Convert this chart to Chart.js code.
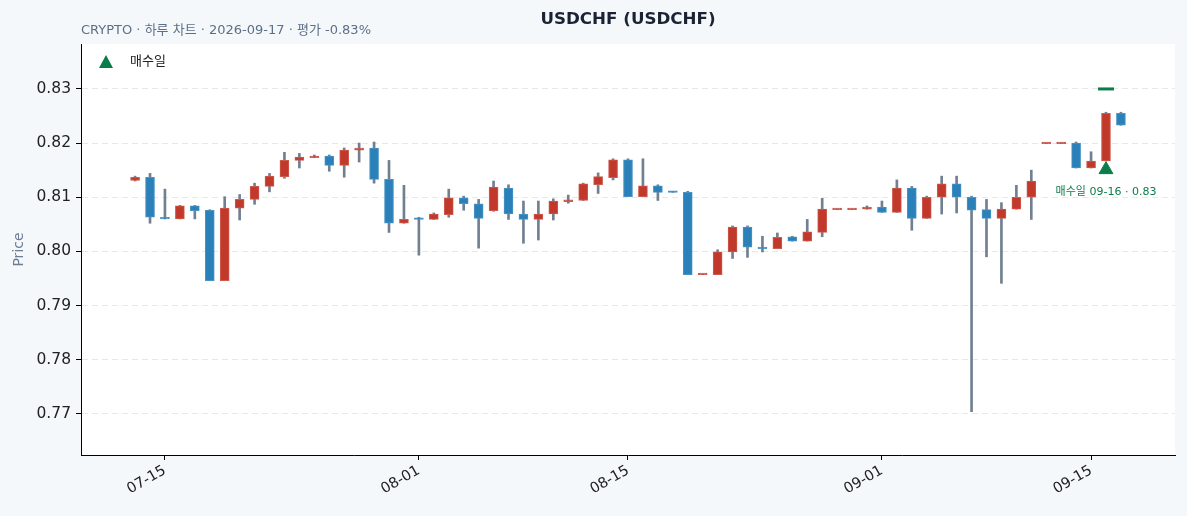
<!DOCTYPE html>
<html lang="ko">
<head>
<meta charset="utf-8">
<title>USDCHF (USDCHF)</title>
<script src="https://cdn.jsdelivr.net/npm/chart.js@4.4.1/dist/chart.umd.min.js"></script>
<style>
  html, body { margin: 0; padding: 0; background: #f5f8fb; }
  #wrap { width: 1187px; height: 516px; }
</style>
</head>
<body>
<div id="wrap"><canvas id="grafico" width="1187" height="516"></canvas></div>
<script>
// Datos diarios (MM-DD, año 2026)
const year = 2026;
const dates = [
  "07-13", "07-14", "07-15", "07-16", "07-17", "07-18", "07-19", "07-20", "07-21", "07-22",
  "07-23", "07-24", "07-25", "07-26", "07-27", "07-28", "07-29", "07-30", "07-31", "08-01",
  "08-02", "08-03", "08-04", "08-05", "08-06", "08-07", "08-08", "08-09", "08-10", "08-11",
  "08-12", "08-13", "08-14", "08-15", "08-16", "08-17", "08-18", "08-19", "08-20", "08-21",
  "08-22", "08-23", "08-24", "08-25", "08-26", "08-27", "08-28", "08-29", "08-30", "08-31",
  "09-01", "09-02", "09-03", "09-04", "09-05", "09-06", "09-07", "09-08", "09-09", "09-10",
  "09-11", "09-12", "09-13", "09-14", "09-15", "09-16", "09-17",
];
const opens = [
  0.8131, 0.8137, 0.8063, 0.8060, 0.8084, 0.8076, 0.7946, 0.8080, 0.8096, 0.8120,
  0.8138, 0.8168, 0.8173, 0.8176, 0.8159, 0.8187, 0.8191, 0.8133, 0.8052, 0.8060,
  0.8059, 0.8068, 0.8099, 0.8088, 0.8075, 0.8117, 0.8069, 0.8059, 0.8069, 0.8092,
  0.8094, 0.8123, 0.8136, 0.8169, 0.8101, 0.8121, 0.8110, 0.8109, 0.7957, 0.7957,
  0.7999, 0.8045, 0.8008, 0.8005, 0.8027, 0.8019, 0.8035, 0.8077, 0.8077, 0.8078,
  0.8082, 0.8072, 0.8117, 0.8061, 0.8100, 0.8125, 0.8100, 0.8077, 0.8061, 0.8078,
  0.8100, 0.8199, 0.8199, 0.8200, 0.8154, 0.8167, 0.8255,
];
const highs = [
  0.8139, 0.8144, 0.8115, 0.8085, 0.8085, 0.8077, 0.8101, 0.8105, 0.8126, 0.8144,
  0.8183, 0.8181, 0.8178, 0.8178, 0.8191, 0.8200, 0.8202, 0.8168, 0.8122, 0.8063,
  0.8071, 0.8115, 0.8102, 0.8096, 0.8130, 0.8123, 0.8093, 0.8093, 0.8097, 0.8104,
  0.8126, 0.8145, 0.8171, 0.8171, 0.8171, 0.8123, 0.8110, 0.8111, 0.7958, 0.8003,
  0.8047, 0.8047, 0.8028, 0.8034, 0.8028, 0.8059, 0.8098, 0.8078, 0.8078, 0.8084,
  0.8093, 0.8132, 0.8120, 0.8102, 0.8139, 0.8139, 0.8102, 0.8096, 0.8090, 0.8122,
  0.8150, 0.8200, 0.8200, 0.8202, 0.8184, 0.8257, 0.8257,
];
const lows = [
  0.8130, 0.8052, 0.8060, 0.8060, 0.8060, 0.7946, 0.7946, 0.8058, 0.8087, 0.8110,
  0.8135, 0.8154, 0.8173, 0.8148, 0.8137, 0.8165, 0.8126, 0.8035, 0.8052, 0.7993,
  0.8059, 0.8063, 0.8076, 0.8006, 0.8074, 0.8059, 0.8015, 0.8021, 0.8058, 0.8089,
  0.8094, 0.8107, 0.8132, 0.8101, 0.8101, 0.8094, 0.8109, 0.7957, 0.7957, 0.7957,
  0.7987, 0.7989, 0.7999, 0.8005, 0.8019, 0.8019, 0.8027, 0.8077, 0.8077, 0.8078,
  0.8072, 0.8072, 0.8039, 0.8061, 0.8069, 0.8071, 0.7704, 0.7990, 0.7941, 0.8078,
  0.8059, 0.8199, 0.8199, 0.8154, 0.8154, 0.8167, 0.8233,
];
const closes = [
  0.8137, 0.8063, 0.8060, 0.8084, 0.8075, 0.7946, 0.8080, 0.8096, 0.8120, 0.8139,
  0.8168, 0.8174, 0.8176, 0.8159, 0.8187, 0.8191, 0.8133, 0.8052, 0.8059, 0.8059,
  0.8069, 0.8099, 0.8088, 0.8061, 0.8119, 0.8069, 0.8059, 0.8069, 0.8093, 0.8095,
  0.8125, 0.8138, 0.8169, 0.8101, 0.8121, 0.8109, 0.8109, 0.7957, 0.7958, 0.7999,
  0.8045, 0.8008, 0.8005, 0.8026, 0.8019, 0.8036, 0.8078, 0.8078, 0.8078, 0.8082,
  0.8072, 0.8117, 0.8061, 0.8100, 0.8125, 0.8100, 0.8076, 0.8061, 0.8078, 0.8100,
  0.8130, 0.8200, 0.8200, 0.8154, 0.8167, 0.8255, 0.8233,
];

// Marcas del eje X y del eje Y
const tickDates = ["07-15", "08-01", "08-15", "09-01", "09-15"];
const yTicks = [0.77, 0.78, 0.79, 0.80, 0.81, 0.82, 0.83];

// Día de compra
const buyDate = "09-16";
const buyPrice = 0.83;
const buyLabel = "매수일";

const titulo = "USDCHF (USDCHF)";
const subtitulo = "CRYPTO · 하루 차트 · 2026-09-17 · 평가 -0.83%";

const ROJO = "#c0392b";
const AZUL = "#2a80b9";
const MECHA = "#717f91";
const VERDE = "#0b7d4b";
const FUENTE = "'DejaVu Sans', 'Noto Sans CJK KR', sans-serif";

// Día como número, contando desde la primera vela
function dayIndex(md) {
  const [m, d] = md.split("-").map(Number);
  const [m0, d0] = dates[0].split("-").map(Number);
  return (Date.UTC(year, m - 1, d) - Date.UTC(year, m0 - 1, d0)) / 864e5;
}
function labelFor(value) {
  const [m0, d0] = dates[0].split("-").map(Number);
  const dt = new Date(Date.UTC(year, m0 - 1, d0) + Math.round(value) * 864e5);
  const mm = String(dt.getUTCMonth() + 1).padStart(2, "0");
  const dd = String(dt.getUTCDate()).padStart(2, "0");
  return `${mm}-${dd}`;
}

const xs = dates.map(dayIndex);
const subida = closes.map((c, i) => c >= opens[i]);
const buyIdx = dates.indexOf(buyDate);
const markerGap = 0.0016; // separación del triángulo bajo la vela

// Fondo de la página y del área del gráfico
const fondo = {
  id: "fondo",
  beforeDraw(chart) {
    const { ctx, chartArea: a } = chart;
    ctx.save();
    ctx.fillStyle = "#f5f8fb";
    ctx.fillRect(0, 0, chart.width, chart.height);
    ctx.fillStyle = "#ffffff";
    ctx.fillRect(a.left, a.top, a.right - a.left, a.bottom - a.top);
    ctx.restore();
  },
};

// Título, subtítulo, leyenda y etiqueta de compra
const textos = {
  id: "textos",
  afterDraw(chart) {
    const { ctx, chartArea: a, scales } = chart;
    ctx.save();
    ctx.textBaseline = "middle";

    ctx.fillStyle = "#1a2233";
    ctx.font = `bold 16.7px ${FUENTE}`;
    ctx.textAlign = "center";
    ctx.fillText(titulo, (a.left + a.right) / 2, 20);

    ctx.fillStyle = "#5d6f86";
    ctx.font = `13px ${FUENTE}`;
    ctx.textAlign = "left";
    ctx.fillText(subtitulo, a.left, 31);

    // Leyenda dentro del área
    const lx = a.left + 25;
    const ly = a.top + 19;
    ctx.fillStyle = VERDE;
    ctx.beginPath();
    ctx.moveTo(lx, ly - 8);
    ctx.lineTo(lx + 7, ly + 5);
    ctx.lineTo(lx - 7, ly + 5);
    ctx.closePath();
    ctx.fill();
    ctx.fillStyle = "#222222";
    ctx.font = `13px ${FUENTE}`;
    ctx.fillText(buyLabel, lx + 24, ly - 1);

    // Etiqueta bajo el triángulo
    const px = scales.x.getPixelForValue(xs[buyIdx]);
    const py = scales.y.getPixelForValue(lows[buyIdx] - markerGap);
    ctx.fillStyle = VERDE;
    ctx.font = `11px ${FUENTE}`;
    ctx.textAlign = "center";
    ctx.fillText(`${buyLabel} ${buyDate} · ${buyPrice.toFixed(2)}`, px, py + 23);
    ctx.restore();
  },
};

const ctx = document.getElementById("grafico").getContext("2d");
Chart.defaults.font.family = FUENTE;

new Chart(ctx, {
  type: "bar",
  data: {
    datasets: [
      {
        label: "body",
        data: xs.map((x, i) => ({ x, y: [opens[i], closes[i]] })),
        backgroundColor: subida.map((s) => (s ? ROJO : AZUL)),
        borderColor: subida.map((s) => (s ? "#cf5a4e" : "#4b93c4")),
        borderWidth: 1,
        borderSkipped: false,
        barThickness: 9,
        minBarLength: 1.5,
        grouped: false,
        order: 1,
      },
      {
        label: "wick",
        data: xs.map((x, i) => ({ x, y: [lows[i], highs[i]] })),
        backgroundColor: MECHA,
        barThickness: 2,
        grouped: false,
        order: 2,
      },
      {
        type: "scatter",
        label: buyLabel,
        data: [{ x: xs[buyIdx], y: lows[buyIdx] - markerGap }],
        pointStyle: "triangle",
        radius: 8,
        backgroundColor: VERDE,
        borderColor: VERDE,
        borderWidth: 1,
        order: 0,
      },
      {
        type: "scatter",
        label: "buy price",
        data: [{ x: xs[buyIdx], y: buyPrice }],
        pointStyle: "line",
        radius: 8,
        borderColor: VERDE,
        borderWidth: 3,
        order: 0,
      },
    ],
  },
  options: {
    responsive: false,
    animation: false,
    layout: { padding: { top: 44, right: 12, left: 0, bottom: 0 } },
    plugins: {
      legend: { display: false },
      title: { display: false },
      tooltip: { enabled: false },
    },
    scales: {
      x: {
        type: "linear",
        offset: false,
        min: xs[0] - 3.62,
        max: xs[xs.length - 1] + 3.62,
        afterBuildTicks: (s) => {
          s.ticks = tickDates.map((d) => ({ value: dayIndex(d) }));
        },
        afterFit: (s) => {
          s.height = 61;
        },
        grid: { offset: false, drawOnChartArea: false, tickLength: 5, tickColor: "#000" },
        border: { display: true, color: "#000", width: 1 },
        ticks: {
          callback: (v) => labelFor(v),
          autoSkip: false,
          maxRotation: 30,
          minRotation: 30,
          color: "#222",
          font: { size: 14.5 },
          padding: 2,
        },
      },
      y: {
        min: 0.7624,
        max: 0.8383,
        afterBuildTicks: (s) => {
          s.ticks = yTicks.map((v) => ({ value: v }));
        },
        afterFit: (s) => {
          s.width = 81;
        },
        grid: { color: "#e8e8e8", tickLength: 5, tickColor: "#000" },
        border: { display: true, color: "#000", width: 1, dash: [6, 4] },
        ticks: {
          callback: (v) => v.toFixed(2),
          color: "#222",
          font: { size: 15.5 },
          padding: 5,
        },
        title: {
          display: true,
          text: "Price",
          color: "#6b7c93",
          font: { size: 14 },
          padding: { top: 11, bottom: 0 },
        },
      },
    },
  },
  plugins: [fondo, textos],
});
</script>
</body>
</html>
